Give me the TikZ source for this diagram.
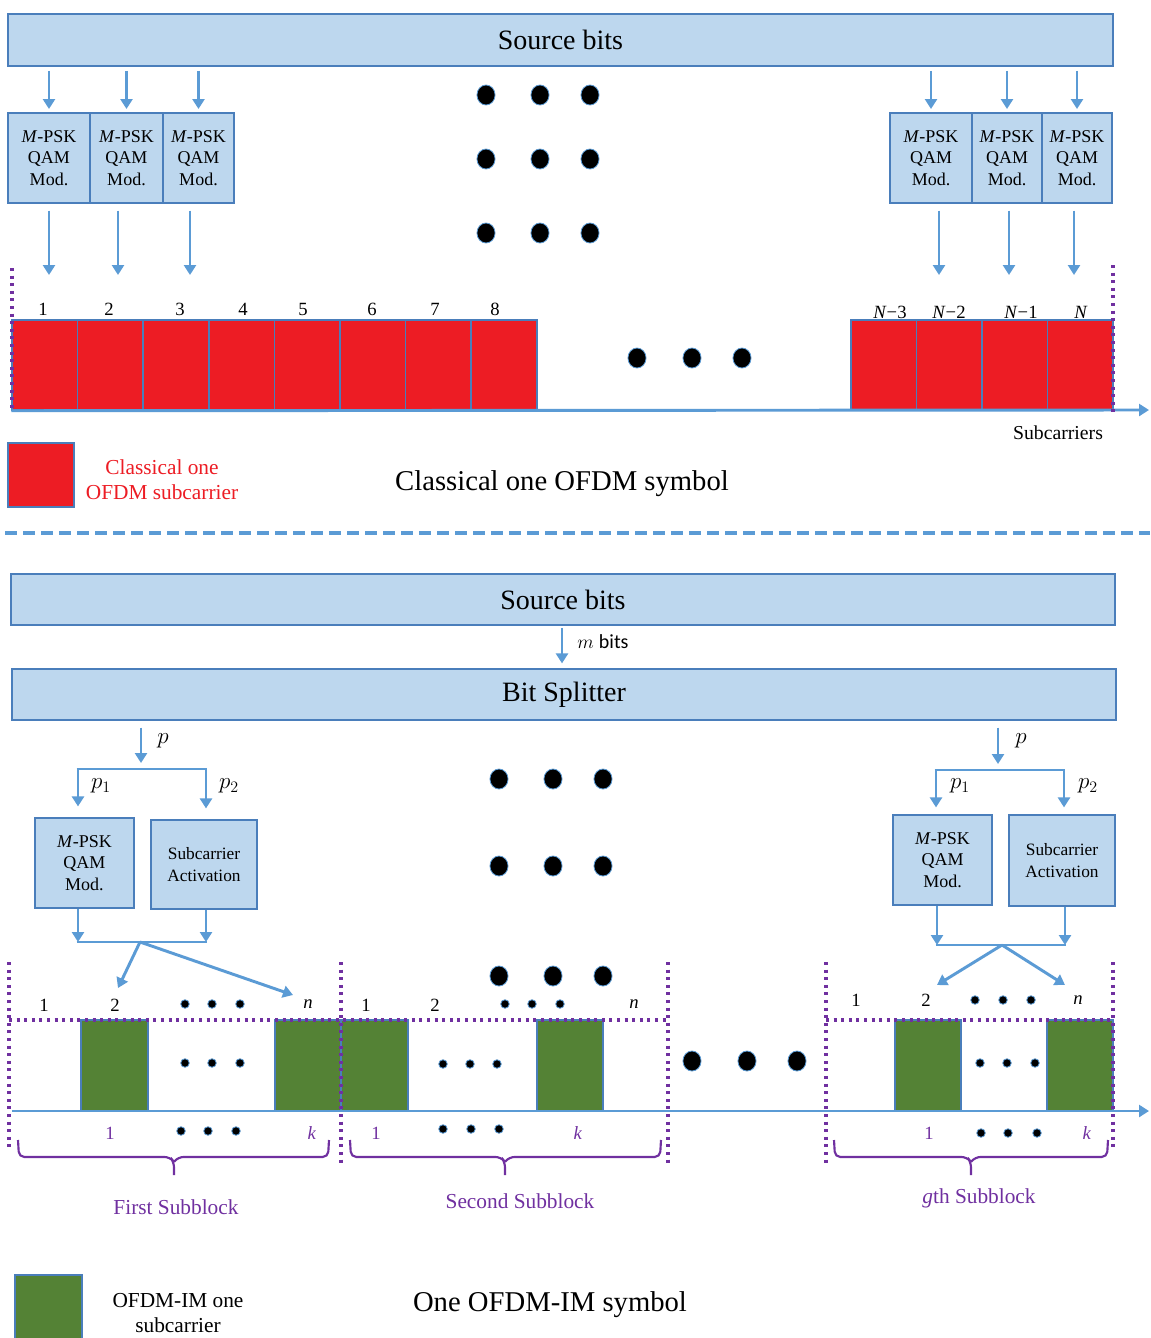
\documentclass[tikz,border=0pt]{standalone}
\usepackage{fontspec}
\setmainfont{Liberation Serif}
\newfontfamily\sansc{Carlito}
\usetikzlibrary{arrows.meta}
\definecolor{boxfill}{HTML}{BDD7EE}
\definecolor{boxline}{HTML}{4A7EBB}
\definecolor{arrblue}{HTML}{5B9BD5}
\definecolor{sred}{HTML}{ED1C24}
\definecolor{sgreen}{HTML}{548235}
\definecolor{spurple}{HTML}{7030A0}
\begin{document}
\begin{tikzpicture}[x=0.75pt,y=-0.75pt,
  sz/.style 2 args={minimum width=#1*0.75pt,minimum height=#2*0.75pt},
  box/.style={draw=boxline,fill=boxfill,line width=1.4pt,inner sep=0pt,align=center,font=\fontsize{13.5}{16}\selectfont},
  bigbox/.style={box,font=\fontsize{21}{25}\selectfont},
  sabox/.style={box,font=\fontsize{13}{16.5}\selectfont},
  arr/.style={draw=arrblue,line width=2.2pt,-{Triangle[width=9pt,length=7.5pt]}},
  ln/.style={draw=arrblue,line width=2.2pt},
  redcell/.style={draw=boxline,fill=sred,line width=1.1pt,inner sep=0pt},
  grncell/.style={draw=boxline,fill=sgreen,line width=1.1pt,inner sep=0pt},
  bigdot/.style={draw=arrblue,fill=black,line width=0.6pt},
  smdot/.style={draw=arrblue,fill=black,line width=0.6pt},
  pdot/.style={draw=spurple,line width=2.3pt,dash pattern=on 2.3pt off 3.4pt},
  lab/.style={inner sep=0pt,font=\fontsize{14}{16}\selectfont},
  plab/.style={inner sep=0pt,text=spurple,font=\fontsize{14}{16}\selectfont},
  sublab/.style={inner sep=0pt,text=spurple,font=\fontsize{16}{18}\selectfont},
  mlab/.style={inner sep=0pt,font=\fontsize{16.5}{18}\selectfont},
  title/.style={inner sep=0pt,font=\fontsize{21.5}{25}\selectfont},
  brc/.style={draw=spurple,line width=1.6pt,rounded corners=4pt}
]
\useasboundingbox (0,0) rectangle (1150,1338);
\clip (0,0) rectangle (1150,1338);
\fill[white] (0,0) rectangle (1150,1338);

% ===== Top: classical OFDM =====
\node[bigbox,sz={1105}{52}] (src1) at (560.5,40) {Source bits};
\node[box,sz={82}{90}] (m1) at (49,158) {\textit{M}-PSK\\QAM\\Mod.};
\node[box,sz={73}{90}] (m2) at (126.5,158) {\textit{M}-PSK\\QAM\\Mod.};
\node[box,sz={71}{90}] (m3) at (198.5,158) {\textit{M}-PSK\\QAM\\Mod.};
\node[box,sz={82}{90}] (m4) at (931,158) {\textit{M}-PSK\\QAM\\Mod.};
\node[box,sz={70}{90}] (m5) at (1007,158) {\textit{M}-PSK\\QAM\\Mod.};
\node[box,sz={70}{90}] (m6) at (1077,158) {\textit{M}-PSK\\QAM\\Mod.};
\foreach \m in {m1,m2,m3,m4,m5,m6}
  \draw[arr] ([yshift=-3pt]src1.south -| \m) -- ([yshift=2.3pt]\m.north);

\coordinate (t1) at (49,275);
\coordinate (t2) at (118,275);
\coordinate (t3) at (190,275);
\coordinate (t4) at (939,275);
\coordinate (t5) at (1009,275);
\coordinate (t6) at (1074,275);
\draw[arr] ([yshift=-5pt]m1.south -| t1) -- (t1);
\draw[arr] ([yshift=-5pt]m2.south -| t2) -- (t2);
\draw[arr] ([yshift=-5pt]m3.south -| t3) -- (t3);
\draw[arr] ([yshift=-5pt]m4.south -| t4) -- (t4);
\draw[arr] ([yshift=-5pt]m5.south -| t5) -- (t5);
\draw[arr] ([yshift=-5pt]m6.south -| t6) -- (t6);

\foreach \x in {486,540,590}
  \foreach \y in {95,159,233}
    \filldraw[bigdot] (\x,\y) ellipse [x radius=6.8pt, y radius=7.5pt];

\foreach \i in {1,...,8}
  \node[redcell,sz={65.6}{90}] (r\i) at ({12+65.6*(\i-0.5)},365) {};
\node[redcell,sz={65.5}{90}] (rn3) at (883.75,365) {};
\node[redcell,sz={65.5}{90}] (rn2) at (949.25,365) {};
\node[redcell,sz={65.5}{90}] (rn1) at (1014.75,365) {};
\node[redcell,sz={65.5}{90}] (rn0) at (1080.25,365) {};

\node[lab] at (43,309) {1};
\node[lab] at (109,309) {2};
\node[lab] at (180,309) {3};
\node[lab] at (243,309) {4};
\node[lab] at (303,309) {5};
\node[lab] at (372,309) {6};
\node[lab] at (435,309) {7};
\node[lab] at (495,309) {8};
\node[lab] at (890,312) {\textit{N}−3};
\node[lab] at (949,312) {\textit{N}−2};
\node[lab] at (1021,312) {\textit{N}−1};
\node[lab] at (1081,312) {\textit{N}};

\coordinate (ax1) at (1149,410);
\draw[arr] (r1.south west) -- (ax1);
\draw[pdot] (12,268) -- (12,410);
\draw[pdot] (1113,265) -- (1113,412);

\foreach \x in {637,692,742}
  \filldraw[bigdot] (\x,358) ellipse [x radius=6.8pt, y radius=7.5pt];

\node[inner sep=0pt,font=\fontsize{14.8}{17}\selectfont] at (1058,433) {Subcarriers};
\node[redcell,sz={66}{64}] (legr) at (41,475) {};
\node[inner sep=0pt,align=center,text=sred,font=\fontsize{16}{19}\selectfont] at (162,480) {Classical one\\OFDM subcarrier};
\node[title] at (562,484) {Classical one OFDM symbol};

\draw[draw=arrblue,line width=2.4pt,dash pattern=on 9pt off 4.5pt] (5,533) -- (1150,533);

% ===== Bottom: OFDM-IM =====
\node[bigbox,sz={1104}{51}] (src2) at (563,599.5) {Source bits};
\node[bigbox,sz={1104}{51}] (split) at (564,694.5) {Bit Splitter};
\coordinate (mb) at (562,627);
\draw[arr] (src2.south -| mb) ++(0,-1.5pt) -- ([yshift=3.5pt]split.north -| mb);
\node[inner sep=0pt,font=\fontsize{15}{17}\selectfont] at (603,642) {$m$ {\sansc bits}};

% left branch
\coordinate (bp1) at (141,769);
\coordinate (bl1) at (78,769);
\coordinate (br1) at (206,769);
\draw[arr] ([yshift=-5pt]split.south -| bp1) -- ([yshift=4.5pt]bp1);
\draw[ln] ([xshift=-1.1pt]bl1) -- ([xshift=1.1pt]br1);
\node[box,sz={99}{90}] (qa1) at (84.5,863) {\textit{M}-PSK\\QAM\\Mod.};
\node[sabox,sz={106}{89}] (sa1) at (204,864.5) {Subcarrier\\Activation};
\draw[arr] (bl1) -- ([yshift=8pt]qa1.north -| bl1);
\draw[arr] (br1) -- ([yshift=8pt]sa1.north -| br1);
\node[mlab] at (163,741) {$p$};
\node[mlab] at (101,786) {$p_1$};
\node[mlab] at (229,786) {$p_2$};
\coordinate (cl1) at (78,942);
\coordinate (cr1) at (206,942);
\coordinate (cm1) at (140,942);
\draw[arr] (qa1.south -| cl1) -- (cl1);
\draw[arr] (sa1.south -| cr1) -- (cr1);
\draw[ln] ([xshift=-1.1pt]cl1) -- ([xshift=1.1pt]cr1);
\coordinate (a1e2) at (118,988);
\coordinate (a1en) at (293,995);
\draw[arr] (cm1) -- (a1e2);
\draw[arr] (cm1) -- (a1en);

% right branch
\coordinate (bp2) at (998,770);
\coordinate (bl2) at (936,770);
\coordinate (br2) at (1064,770);
\draw[arr] ([yshift=-5pt]split.south -| bp2) -- ([yshift=4.5pt]bp2);
\draw[ln] ([xshift=-1.1pt]bl2) -- ([xshift=1.1pt]br2);
\node[box,sz={99}{90}] (qa2) at (942.5,860) {\textit{M}-PSK\\QAM\\Mod.};
\node[sabox,sz={106}{91}] (sa2) at (1062,860.5) {Subcarrier\\Activation};
\draw[arr] (bl2) -- ([yshift=5pt]qa2.north -| bl2);
\draw[arr] (br2) -- ([yshift=5pt]sa2.north -| br2);
\node[mlab] at (1021,741) {$p$};
\node[mlab] at (960,786) {$p_1$};
\node[mlab] at (1088,786) {$p_2$};
\coordinate (cl2) at (937,945);
\coordinate (cr2) at (1065,945);
\coordinate (cm2) at (1002,945);
\draw[arr] (qa2.south -| cl2) -- (cl2);
\draw[arr] (sa2.south -| cr2) -- (cr2);
\draw[ln] ([xshift=-1.1pt]cl2) -- ([xshift=1.1pt]cr2);
\coordinate (a2e2) at (937,985);
\coordinate (a2en) at (1065,985);
\draw[arr] (cm2) -- (a2e2);
\draw[arr] (cm2) -- (a2en);

% big dots
\foreach \x in {499,553,603}
  \foreach \y in {779,866,976}
    \filldraw[bigdot] (\x,\y) ellipse [x radius=6.8pt, y radius=7.5pt];
\foreach \x in {692,747,797}
  \filldraw[bigdot] (\x,1061) ellipse [x radius=6.8pt, y radius=7.5pt];

% green cells
\node[grncell,sz={67}{91}] (g1) at (114.5,1065.5) {};
\node[grncell,sz={66}{91}] (g2) at (308,1065.5) {};
\node[grncell,sz={67}{91}] (g3) at (374.5,1065.5) {};
\node[grncell,sz={66}{91}] (g4) at (570,1065.5) {};
\node[grncell,sz={66}{91}] (g5) at (928,1065.5) {};
\node[grncell,sz={66}{91}] (g6) at (1080,1065.5) {};

% axis
\coordinate (ax2s) at (12,1111);
\coordinate (ax2) at (1149,1111);
\draw[arr] (ax2s) -- (ax2);

% dotted frames
\draw[pdot] (9,962) -- (9,1150);
\draw[pdot] (341,962) -- (341,1165);
\draw[pdot] (668,962) -- (668,1165);
\draw[pdot] (826,962) -- (826,1165);
\draw[pdot] (1113,962) -- (1113,1150);
\draw[pdot] (9,1020) -- (668,1020);
\draw[pdot] (826,1020) -- (1113,1020);

% labels above
\node[lab] at (44,1005) {1};
\node[lab] at (115,1005) {2};
\node[lab] at (308,1004) {\textit{n}};
\node[lab] at (366,1005) {1};
\node[lab] at (435,1005) {2};
\node[lab] at (634,1004) {\textit{n}};
\node[lab] at (856,1000) {1};
\node[lab] at (926,1000) {2};
\node[lab] at (1078,1000) {\textit{n}};
\foreach \x in {185,212,240} \filldraw[smdot] (\x,1004) circle [radius=3.2pt];
\foreach \x in {505,532,560} \filldraw[smdot] (\x,1004) circle [radius=3.2pt];
\foreach \x in {975,1003,1031} \filldraw[smdot] (\x,1000) circle [radius=3.2pt];
% middle dots
\foreach \x in {185,212,240} \filldraw[smdot] (\x,1063) circle [radius=3.2pt];
\foreach \x in {443,470,497} \filldraw[smdot] (\x,1064) circle [radius=3.2pt];
\foreach \x in {980,1007,1035} \filldraw[smdot] (\x,1063) circle [radius=3.2pt];
% labels below
\node[plab] at (110,1133) {1};
\node[plab] at (312,1133) {\textit{k}};
\node[plab] at (376,1133) {1};
\node[plab] at (578,1133) {\textit{k}};
\node[plab] at (929,1133) {1};
\node[plab] at (1087,1133) {\textit{k}};
\foreach \x in {181,208,236} \filldraw[smdot] (\x,1131) circle [radius=3.2pt];
\foreach \x in {443,471,499} \filldraw[smdot] (\x,1129) circle [radius=3.2pt];
\foreach \x in {981,1008,1037} \filldraw[smdot] (\x,1133) circle [radius=3.2pt];

% braces
\draw[brc] (18,1140) -- (19,1157) -- (170,1157) -- (174,1162) -- (174,1175);
\draw[brc] (329,1140) -- (328,1157) -- (178,1157) -- (174,1162);
\draw[brc] (350,1140) -- (351,1157) -- (501,1157) -- (505,1162) -- (505,1175);
\draw[brc] (661,1140) -- (660,1157) -- (509,1157) -- (505,1162);
\draw[brc] (834,1140) -- (835,1157) -- (967,1157) -- (971,1162) -- (971,1175);
\draw[brc] (1108,1140) -- (1107,1157) -- (975,1157) -- (971,1162);

\node[sublab] at (176,1207) {First Subblock};
\node[sublab] at (520,1201) {Second Subblock};
\node[sublab] at (979,1198) {\textit{g}th Subblock};

% legend
\node[grncell,sz={67}{70}] (legg) at (48.5,1310) {};
\node[inner sep=0pt,align=center,font=\fontsize{16}{18.5}\selectfont] at (178,1313) {OFDM-IM one\\subcarrier};
\node[title] at (550,1305) {One OFDM-IM symbol};
\end{tikzpicture}
\end{document}
